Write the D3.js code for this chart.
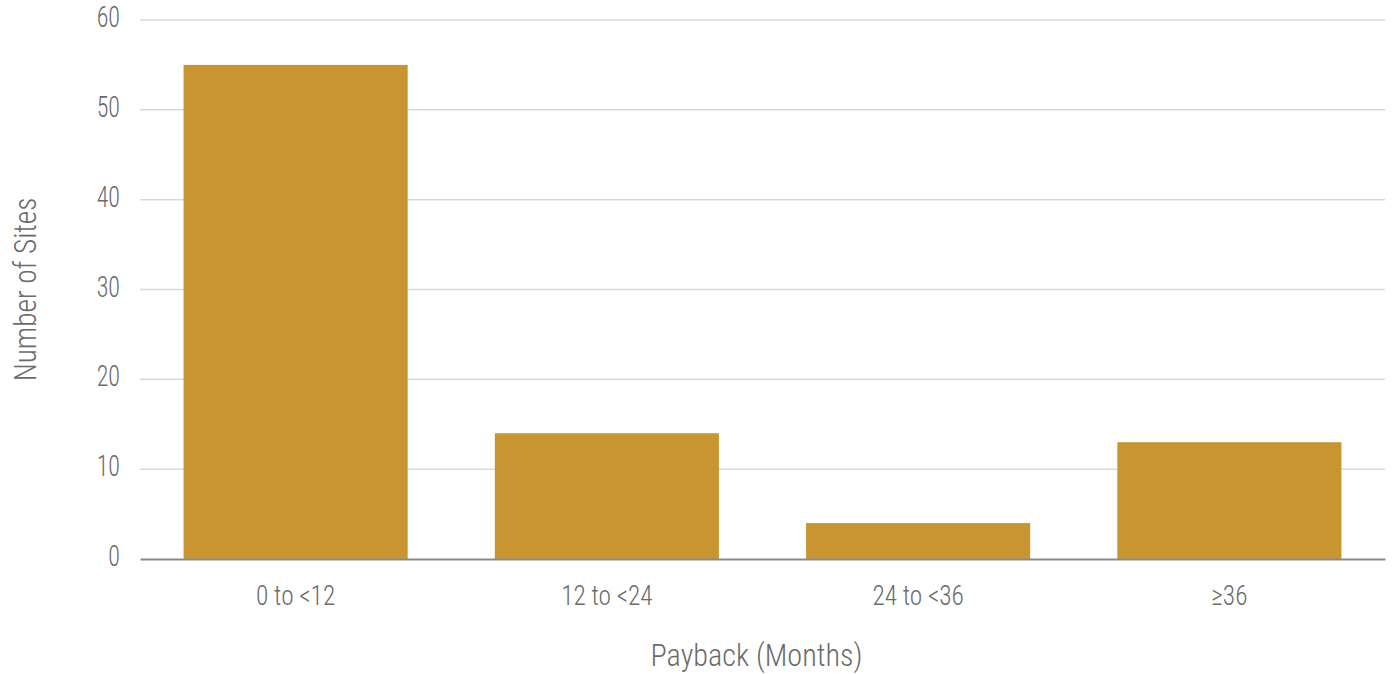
<!DOCTYPE html>
<html>
<head>
<meta charset="utf-8">
<script src="https://cdn.jsdelivr.net/npm/d3@7"></script>
<style>
  body { margin: 0; background: #fff; }
  text { font-family: "Roboto Condensed", Roboto, sans-serif; font-weight: 300; fill: #6b6b6b; }
</style>
</head>
<body>
<div id="chart"></div>
<script>
var categories = ["0 to <12", "12 to <24", "24 to <36", "\u226536"];
var sites = [55, 14, 4, 13];
var yTicks = [0, 10, 20, 30, 40, 50, 60];

var W = 1396, H = 674;
var margin = {top: 20, right: 11, bottom: 115, left: 140};
var width = W - margin.left - margin.right;
var height = H - margin.top - margin.bottom;

// no condensed face installed, so squeeze the text horizontally
var sxTick = 0.8, sxCat = 0.92, sxTitle = 0.945;

var svg = d3.select("#chart").append("svg")
	.attr("width", W)
	.attr("height", H)
	.append("g")
		.attr("transform", "translate(" + margin.left + "," + margin.top + ")");

var x = d3.scaleBand()
	.domain(categories)
	.range([0, width])
	.paddingInner(0.28)
	.paddingOuter(0.14);

var y = d3.scaleLinear()
	.domain([0, 60])
	.range([height, 0]);

// grid lines
svg.append("g")
	.selectAll("line")
	.data(yTicks.slice(1))
	.enter().append("line")
	.attr("x1", 0)
	.attr("x2", width)
	.attr("y1", function(d) { return y(d); })
	.attr("y2", function(d) { return y(d); })
	.attr("stroke", "#d9d9d9")
	.attr("stroke-width", 1.5);

// y axis labels
var yAxis = svg.append("g")
	.call(d3.axisLeft(y).tickValues(yTicks).tickSize(0).tickPadding(20));
yAxis.select(".domain").remove();
yAxis.selectAll("text")
	.style("font-size", "30px")
	.attr("x", -20 / sxTick)
	.attr("dy", "0.22em")
	.attr("transform", "scale(" + sxTick + ",1)");

// bars
svg.selectAll("rect.bar")
	.data(sites)
	.enter().append("rect")
	.attr("class", "bar")
	.attr("x", function(d, i) { return x(categories[i]); })
	.attr("y", function(d) { return y(d); })
	.attr("width", x.bandwidth())
	.attr("height", function(d) { return height - y(d); })
	.attr("fill", "#c99530");

// x axis
var xAxis = svg.append("g")
	.attr("transform", "translate(0," + height + ")")
	.call(d3.axisBottom(x).tickSize(0).tickPadding(24));
xAxis.select(".domain").attr("stroke", "#8a8a8a").attr("stroke-width", 2);
xAxis.selectAll("text")
	.style("font-size", "27.5px")
	.attr("dy", "0.8em")
	.attr("transform", "scale(" + sxCat + ",1)");

// titles
svg.append("g")
	.attr("transform", "translate(" + (width / 2 - 6) + "," + (height + 107) + ")")
	.append("text")
	.attr("transform", "scale(" + sxTitle + ",1)")
	.attr("text-anchor", "middle")
	.style("font-size", "32px")
	.text("Payback (Months)");

svg.append("g")
	.attr("transform", "translate(" + (-104) + "," + (height / 2) + ") rotate(-90)")
	.append("text")
	.attr("transform", "scale(" + sxTitle + ",1)")
	.attr("text-anchor", "middle")
	.style("font-size", "31px")
	.text("Number of Sites");
</script>
</body>
</html>
